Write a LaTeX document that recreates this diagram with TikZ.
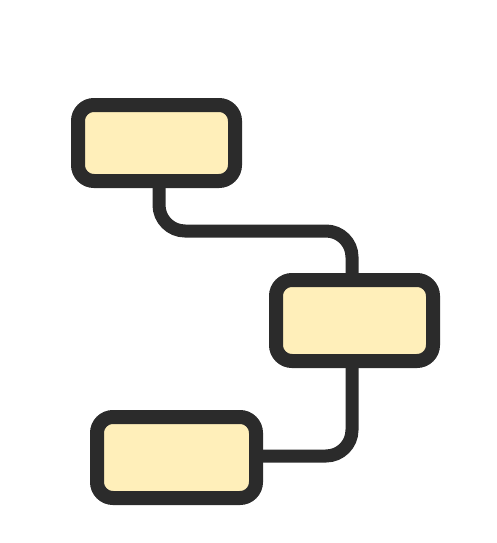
\documentclass[tikz,border=0pt]{standalone}
\begin{document}
\begin{tikzpicture}[x=1pt,y=-1pt,
  boxstyle/.style={draw=strokec,fill=fillc,line width=14pt,rounded corners=16pt},
  wire/.style={draw=strokec,line width=13pt,rounded corners=26pt}]
\definecolor{strokec}{HTML}{2B2B2B}
\definecolor{fillc}{HTML}{FFEFBA}
\useasboundingbox (0,0) rectangle (496,543);
\draw[wire] (159,181) |- (352,231) -- (352,280);
\draw[wire] (352,361) |- (256,456);
\draw[boxstyle] (78,105) rectangle (235,181);
\draw[boxstyle] (276,280) rectangle (433,361);
\draw[boxstyle] (97,417) rectangle (256,498);
\end{tikzpicture}
\end{document}
